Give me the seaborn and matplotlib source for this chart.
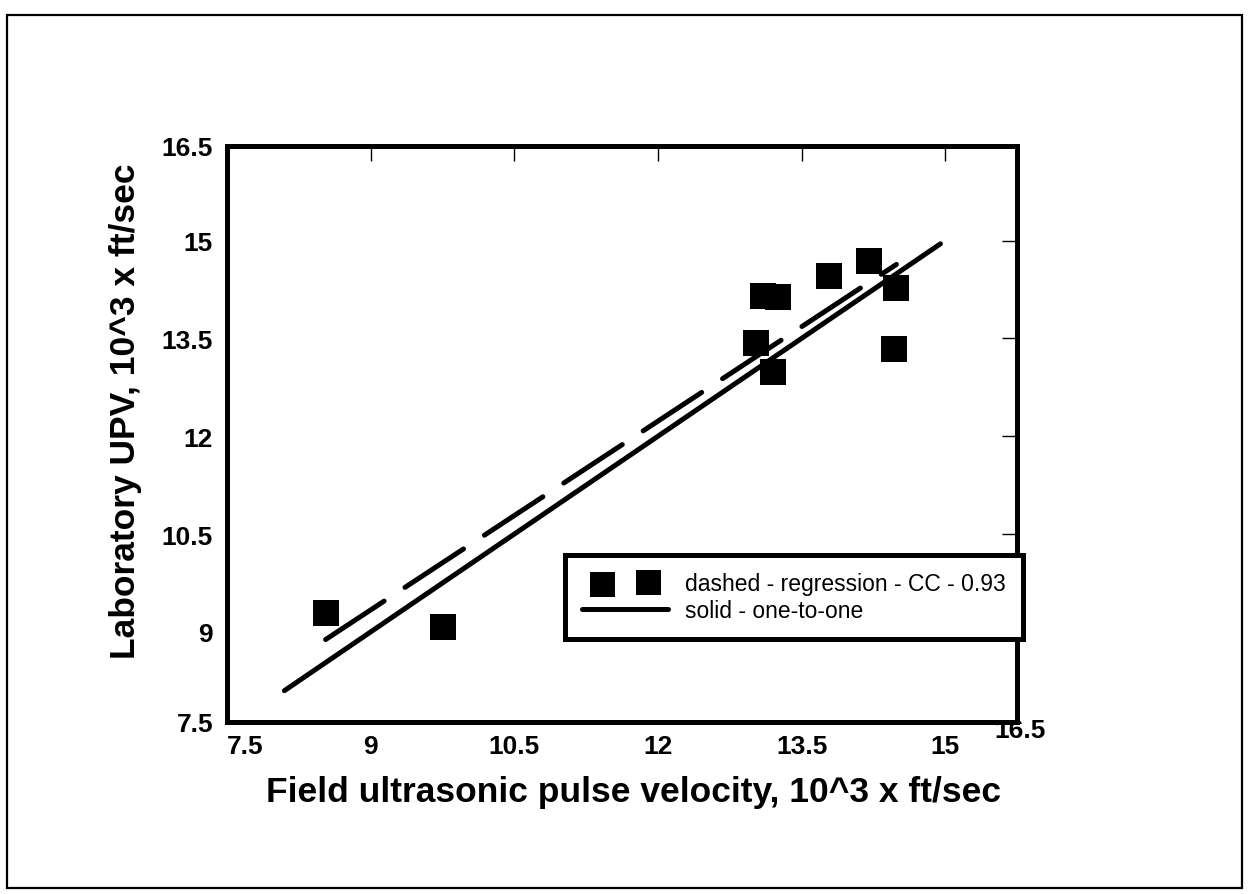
import numpy as np
import pandas as pd
import matplotlib.pyplot as plt
import matplotlib.patches as patches
import matplotlib.transforms as mtransforms
from matplotlib.collections import PathCollection
from matplotlib.legend_handler import HandlerPathCollection
import seaborn as sns

# field vs laboratory pulse velocity, 10^3 ft/sec
field_upv = [8.53, 9.76, 13.02, 13.10, 13.25, 13.20, 13.79, 14.20, 14.49, 14.46]
lab_upv = [9.29, 9.08, 13.43, 14.15, 14.13, 12.99, 14.46, 14.69, 14.28, 13.34]

# one-to-one reference line ends
one_to_one = [8.1, 14.95]

# axis extents as printed (end labels sit on the frame corners)
x_range = [7.5, 15.75]
y_range = [7.62, 16.45]
inner_ticks = [9, 10.5, 12, 13.5, 15]
inner_labels = ['9', '10.5', '12', '13.5', '15']
end_labels = ['7.5', '16.5']

df = pd.DataFrame({'field': field_upv, 'lab': lab_upv})

# linear regression through the points
slope, intercept = np.polyfit(df['field'], df['lab'], 1)
reg_x = np.array([df['field'].min(), df['field'].max()])
reg_y = slope * reg_x + intercept

sns.set_style('white')
plt.rcParams['font.family'] = ['Liberation Sans', 'DejaVu Sans']
plt.rcParams['text.color'] = 'black'
plt.rcParams['axes.labelcolor'] = 'black'

fig = plt.figure(figsize=(12.49, 8.95), dpi=100)
ax = fig.add_axes([0.1817, 0.1922, 0.6326, 0.6436])

sns.lineplot(x=reg_x, y=reg_y, ax=ax, color='black', lw=3.6,
             linestyle=(0, (14, 5)), dash_capstyle='round')
sns.lineplot(x=one_to_one, y=one_to_one, ax=ax, color='black', lw=3.6,
             solid_capstyle='round', label='solid - one-to-one')
sns.scatterplot(data=df, x='field', y='lab', ax=ax, marker='s', s=330,
                color='black', edgecolor='black', linewidth=0,
                label='dashed - regression - CC - 0.93', zorder=3)

ax.set_xlim(x_range)
ax.set_ylim(y_range)
ax.set_xticks([x_range[0]] + inner_ticks + [x_range[1]])
ax.set_xticklabels([end_labels[0]] + inner_labels + [end_labels[1]])
ax.set_yticks([y_range[0]] + inner_ticks + [y_range[1]])
ax.set_yticklabels([end_labels[0]] + inner_labels + [end_labels[1]])
ax.tick_params(direction='in', length=11, width=1, top=True, right=True,
               labelsize=19, colors='black')
ax.tick_params(axis='x', pad=9)
ax.tick_params(axis='y', pad=10)
for lab in ax.get_xticklabels() + ax.get_yticklabels():
    lab.set_fontweight('bold')

xt = ax.xaxis.get_major_ticks()
xt[0].label1.set_horizontalalignment('left')
xt[-1].label1.set_transform(xt[-1].label1.get_transform() +
                            mtransforms.ScaledTranslation(0.03, 0.16, fig.dpi_scale_trans))

for sp in ax.spines.values():
    sp.set_linewidth(3.6)
    sp.set_color('black')

ax.set_xlabel('Field ultrasonic pulse velocity, 10^3 x ft/sec',
              fontsize=25.5, fontweight='bold', va='top', color='black')
ax.xaxis.set_label_coords(0.515, -0.092)
ax.set_ylabel('Laboratory UPV, 10^3 x ft/sec',
              fontsize=25.5, fontweight='bold', color='black')
ax.yaxis.set_label_coords(-0.108, 0.542)

handles, labels = ax.get_legend_handles_labels()
order = [labels.index('dashed - regression - CC - 0.93'),
         labels.index('solid - one-to-one')]
leg = ax.legend([handles[i] for i in order], [labels[i] for i in order],
                loc='lower left', bbox_to_anchor=(0.428, 0.144),
                borderaxespad=0, fontsize=16.5, scatterpoints=2,
                handlelength=3.75, fancybox=False, framealpha=1,
                edgecolor='black', borderpad=0.75, labelspacing=0.15,
                handletextpad=0.75, labelcolor='black',
                handler_map={PathCollection: HandlerPathCollection(marker_pad=0.87)})
leg.get_frame().set_linewidth(3.6)

# outer frame around the whole page
fig.patches.append(patches.Rectangle((0.006, 0.007), 0.988, 0.975,
                                     transform=fig.transFigure, fill=False,
                                     edgecolor='black', linewidth=1.6))

fig.savefig('out.png', dpi=100)
plt.close('all')
